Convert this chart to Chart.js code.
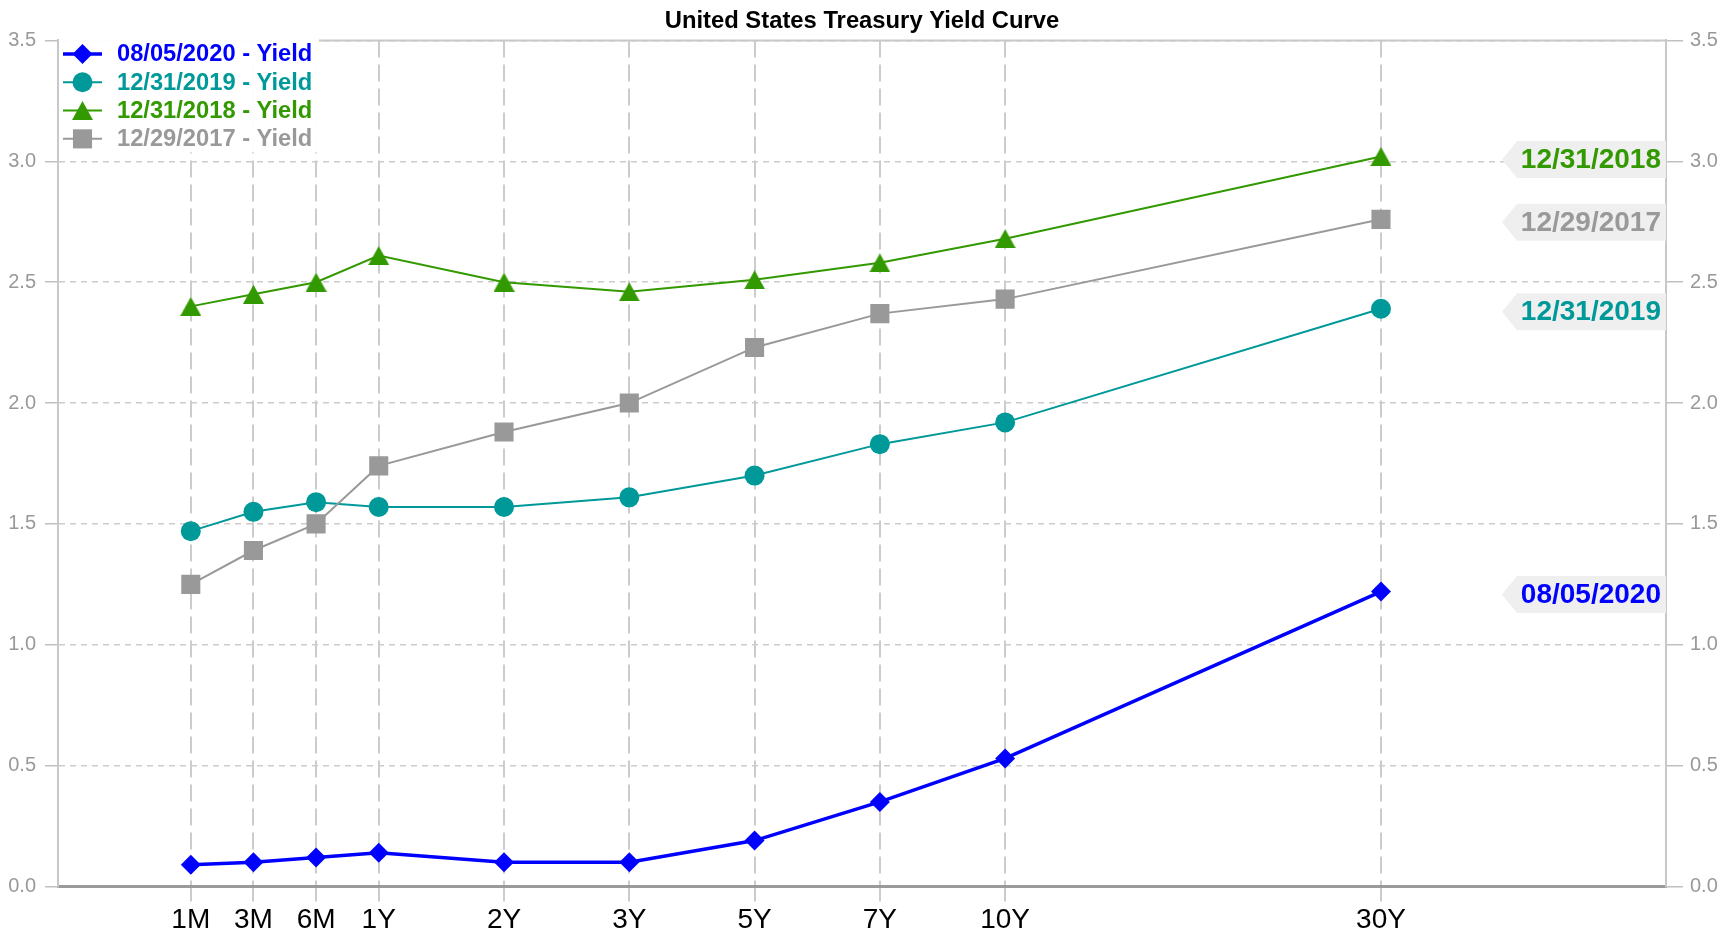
<!DOCTYPE html>
<html>
<head>
<meta charset="utf-8">
<script src="https://cdn.jsdelivr.net/npm/chart.js@4/dist/chart.umd.min.js"></script>
<style>
html,body{margin:0;padding:0;background:#ffffff;}
#wrap{width:1734px;height:938px;position:relative;}
canvas{display:block;}
</style>
</head>
<body>
<div id="wrap"><canvas id="c" width="1734" height="938"></canvas></div>
<script>
// ---- data ----
const maturities = ['1M','3M','6M','1Y','2Y','3Y','5Y','7Y','10Y','30Y'];
const maturitySlots = [0, 1, 2, 3, 5, 7, 9, 11, 13, 19];
const yield20200805 = [0.09, 0.10, 0.12, 0.14, 0.10, 0.10, 0.19, 0.35, 0.53, 1.22];
const yield20191231 = [1.47, 1.55, 1.59, 1.57, 1.57, 1.61, 1.70, 1.83, 1.92, 2.39];
const yield20181231 = [2.40, 2.45, 2.50, 2.61, 2.50, 2.46, 2.51, 2.58, 2.68, 3.02];
const yield20171229 = [1.25, 1.39, 1.50, 1.74, 1.88, 2.00, 2.23, 2.37, 2.43, 2.76];
const seriesDates = ['08/05/2020', '12/31/2019', '12/31/2018', '12/29/2017'];
const yTicks = [0, 0.5, 1.0, 1.5, 2.0, 2.5, 3.0, 3.5];

// ---- styles ----
const FONT = "'Liberation Sans', Arial, Helvetica, sans-serif";
const seriesValues = [yield20200805, yield20191231, yield20181231, yield20171229];
const colors = ['#0000ff', '#009999', '#339900', '#999999'];
const lineWidths = [3.5, 2, 2, 2];

// triangle marker centred on its bounding box
function makeTriangle(color, w, h) {
  const c = document.createElement('canvas');
  c.width = w; c.height = h;
  const g = c.getContext('2d');
  g.fillStyle = color;
  g.beginPath();
  g.moveTo(w / 2, 0);
  g.lineTo(w, h);
  g.lineTo(0, h);
  g.closePath();
  g.fill();
  return c;
}
const pointStyles = ['rectRot', 'circle', makeTriangle('#339900', 21, 19), 'rect'];
const pointRadii = [10, 10, 10, 13.5];

const datasets = seriesDates.map((d, i) => ({
  label: d + ' - Yield',
  data: maturitySlots.map((x, j) => ({ x: x, y: seriesValues[i][j] })),
  borderColor: colors[i],
  backgroundColor: colors[i],
  borderWidth: lineWidths[i],
  pointStyle: pointStyles[i],
  pointRadius: pointRadii[i],
  pointHoverRadius: pointRadii[i],
  pointBorderWidth: 0,
  tension: 0,
  order: 3 - i
}));

const frameAndLabels = {
  id: 'frameAndLabels',
  beforeDatasetsDraw(chart) {
    const ctx = chart.ctx, a = chart.chartArea;
    ctx.save();
    ctx.strokeStyle = '#c8c8c8';
    ctx.lineWidth = 2;
    ctx.beginPath();
    ctx.moveTo(a.left, a.top);
    ctx.lineTo(a.right, a.top);
    ctx.stroke();
    ctx.restore();
  },
  afterDatasetsDraw(chart) {
    const ctx = chart.ctx, a = chart.chartArea, ys = chart.scales.y;
    ctx.save();
    // end-of-line flags
    seriesDates.forEach((d, i) => {
      const vals = seriesValues[i];
      const cy = ys.getPixelForValue(vals[vals.length - 1]) + 3;
      const right = a.right, bodyLeft = right - 149, tip = bodyLeft - 15, h = 18.5;
      ctx.fillStyle = '#efefef';
      ctx.beginPath();
      ctx.moveTo(tip, cy);
      ctx.lineTo(bodyLeft, cy - h);
      ctx.lineTo(right, cy - h);
      ctx.lineTo(right, cy + h);
      ctx.lineTo(bodyLeft, cy + h);
      ctx.closePath();
      ctx.fill();
      ctx.fillStyle = colors[i];
      ctx.font = 'bold 28px ' + FONT;
      ctx.textAlign = 'right';
      ctx.textBaseline = 'middle';
      ctx.fillText(d, right - 5, cy + 1);
    });
    // legend box
    ctx.fillStyle = 'rgba(255,255,255,0.96)';
    ctx.fillRect(a.left + 1, a.top - 2, 260, 114);
    seriesDates.forEach((d, i) => {
      const y = a.top + 13.5 + i * 28.3;
      ctx.strokeStyle = colors[i];
      ctx.lineWidth = lineWidths[i];
      ctx.beginPath();
      ctx.moveTo(a.left + 5, y);
      ctx.lineTo(a.left + 44, y);
      ctx.stroke();
      ctx.fillStyle = colors[i];
      Chart.helpers.drawPoint(ctx, { pointStyle: pointStyles[i], radius: pointRadii[i], rotation: 0, borderWidth: 0 }, a.left + 24.5, y);
      ctx.font = 'bold 23.7px ' + FONT;
      ctx.textAlign = 'left';
      ctx.textBaseline = 'middle';
      ctx.fillText(datasets[i].label, a.left + 59, y + 1);
    });
    ctx.restore();
  }
};

new Chart(document.getElementById('c'), {
  type: 'line',
  data: { datasets: datasets },
  plugins: [frameAndLabels],
  options: {
    responsive: false,
    devicePixelRatio: 1,
    animation: false,
    events: [],
    layout: { padding: 0 },
    plugins: {
      legend: { display: false },
      tooltip: { enabled: false },
      title: {
        display: true,
        fullSize: false,
        text: 'United States Treasury Yield Curve',
        color: '#000000',
        font: { family: FONT, size: 23.8, weight: 'bold' },
        padding: { top: 7, bottom: 4.9 }
      }
    },
    scales: {
      x: {
        type: 'linear',
        position: 'bottom',
        min: -2.12,
        max: 23.55,
        afterBuildTicks: s => { s.ticks = maturitySlots.map(v => ({ value: v })); },
        afterFit: s => { s.height = 51.5; },
        ticks: {
          autoSkip: false,
          maxRotation: 0,
          color: '#000000',
          font: { family: FONT, size: 28 },
          padding: 2,
          callback: (v, i) => maturities[i]
        },
        grid: {
          color: '#cccccc',
          lineWidth: 2,
          tickBorderDash: [17, 7],
          tickLength: 15,
          tickColor: '#cccccc'
        },
        border: { display: true, color: '#9a9a9a', width: 3, dash: [17, 7] }
      },
      y: {
        position: 'left',
        min: 0,
        max: 3.5,
        afterBuildTicks: s => { s.ticks = yTicks.map(v => ({ value: v })); },
        afterFit: s => { s.width = 58; },
        ticks: {
          color: '#999999',
          font: { family: FONT, size: 20 },
          padding: 9,
          callback: v => Number(v).toFixed(1)
        },
        grid: {
          color: '#cccccc',
          lineWidth: 1.5,
          tickBorderDash: [],
          tickLength: 13,
          tickColor: '#c0c0c0'
        },
        border: { display: true, color: '#c8c8c8', width: 2, dash: [6, 5] }
      },
      yRight: {
        position: 'right',
        min: 0,
        max: 3.5,
        afterBuildTicks: s => { s.ticks = yTicks.map(v => ({ value: v })); },
        afterFit: s => { s.width = 68; },
        ticks: {
          color: '#999999',
          font: { family: FONT, size: 20 },
          padding: 7,
          callback: v => Number(v).toFixed(1)
        },
        grid: {
          drawOnChartArea: false,
          lineWidth: 1.5,
          tickBorderDash: [],
          tickLength: 17,
          tickColor: '#c0c0c0'
        },
        border: { display: true, color: '#c8c8c8', width: 2 }
      }
    }
  }
});
</script>
</body>
</html>
